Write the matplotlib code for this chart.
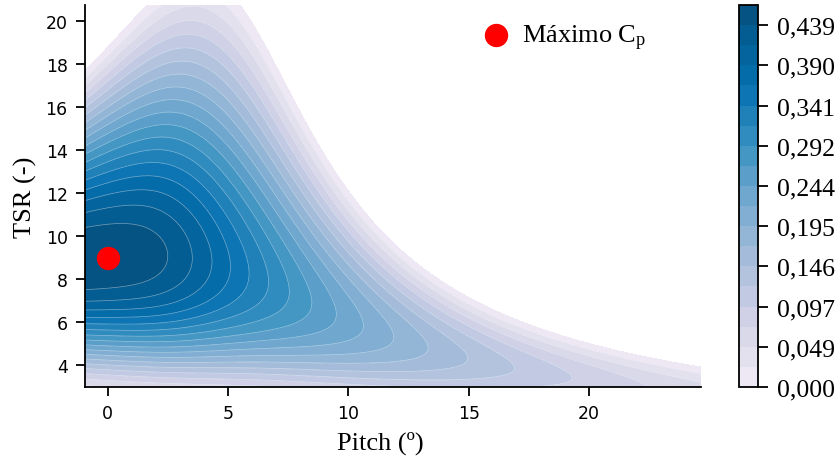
import numpy as np
import matplotlib
matplotlib.use("Agg")
import matplotlib.pyplot as plt
from matplotlib.ticker import FuncFormatter

# Operating ranges of the rotor map
pitch_range = [-0.95, 24.65]   # blade pitch angle (deg)
tsr_range = [3.0, 20.75]       # tip speed ratio

# Zero-power boundary in 1/TSR versus pitch:
# offset, low-pitch slope, high-pitch slope, transition width, transition pitch
boundary_coef = [0.051907, -0.0040782, 0.011917, 1.8289, 5.696]
# Peak power coefficient versus pitch: peak value, decay rate, transition width, transition pitch
peak_coef = [0.46402, 0.093513, 0.95167, 2.6117]
# Width of the Cp curve in 1/TSR: base value and pitch slope
width_coef = [0.058064, 0.0022258]

# Operating point of maximum power coefficient
max_pitch = [0.0]
max_tsr = [9.0]

n_bands = 19


def softplus(x, s):
    return s * np.log1p(np.exp(x / s))


def power_coefficient(pitch, tsr):
    c, a_lo, a_hi, s_b, p_b = boundary_coef
    inv_tsr_zero = c + a_lo * pitch + (a_hi - a_lo) * softplus(pitch - p_b, s_b)
    cp0, k, s_p, p_p = peak_coef
    cp_peak = cp0 * np.exp(-k * softplus(pitch - p_p, s_p))
    width = width_coef[0] + width_coef[1] * pitch
    u = (1.0 / tsr - inv_tsr_zero) / width
    return cp_peak * u * np.exp(1.0 - u)


pitch = np.linspace(pitch_range[0], pitch_range[1], 600)
tsr = np.linspace(tsr_range[0], tsr_range[1], 600)
P, T = np.meshgrid(pitch, tsr)
CP = power_coefficient(P, T)

levels = np.linspace(0.0, CP.max(), n_bands + 1)
band_colors = plt.get_cmap("PuBu")(np.linspace(0.12, 0.9, n_bands))

plt.rcParams["mathtext.fontset"] = "custom"
plt.rcParams["mathtext.rm"] = "Liberation Serif"
serif = "Liberation Serif"

fig = plt.figure(figsize=(8.4, 4.64), dpi=100)
ax = fig.add_axes([0.10119, 0.16379, 0.73333, 0.82328])

cf = ax.contourf(P, T, CP, levels=levels, colors=band_colors)
ax.contour(P, T, CP, levels=levels[1:-1], colors="white", linewidths=0.5, alpha=0.45)
ax.scatter(max_pitch, max_tsr, s=250, color="red", zorder=5, label=r"Máximo $\mathrm{C_p}$")

ax.set_xlim(pitch_range)
ax.set_ylim(tsr_range)
ax.set_xticks([0, 5, 10, 15, 20])
ax.set_yticks(np.arange(4, 21, 2))
for side in ("top", "right"):
    ax.spines[side].set_visible(False)
for side in ("left", "bottom"):
    ax.spines[side].set_linewidth(1.3)
ax.tick_params(direction="out", length=6.5, width=1.3, pad=6, labelsize=12.5)
for lab in ax.get_xticklabels() + ax.get_yticklabels():
    lab.set_fontfamily("DejaVu Sans")

ax.set_xlabel("Pitch (º)", fontfamily=serif, fontsize=19)
ax.xaxis.set_label_coords(0.4789, -0.115)
ax.set_ylabel("TSR (-)", fontfamily=serif, fontsize=19, labelpad=6)

leg = ax.legend(loc="center left", bbox_to_anchor=(0.6458, 0.9162), frameon=False,
                borderaxespad=0, borderpad=0, handlelength=1.0, handletextpad=0.5,
                scatterpoints=1, prop={"family": serif, "size": 19})

cax = fig.add_axes([0.87976, 0.16379, 0.02262, 0.82328])
cb = fig.colorbar(cf, cax=cax, ticks=levels[::2])
cb.outline.set_linewidth(1.3)
cb.outline.set_edgecolor("black")
cax.tick_params(direction="out", length=7, width=1.3, pad=7, labelsize=18.5)
cax.yaxis.set_major_formatter(FuncFormatter(lambda v, _: f"{v:.3f}".replace(".", ",")))
for lab in cax.get_yticklabels():
    lab.set_fontfamily(serif)

fig.savefig("out.png", dpi=100)
